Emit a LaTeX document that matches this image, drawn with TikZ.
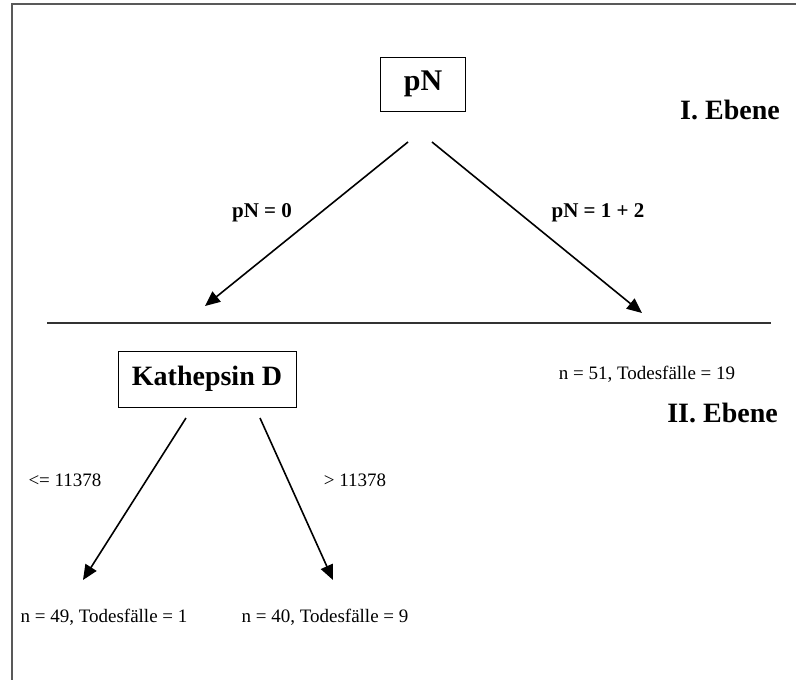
\documentclass[tikz,border=0pt]{standalone}
\usepackage{fontspec}
\setmainfont{Liberation Serif}
\usetikzlibrary{positioning, arrows.meta}
\tikzset{
	boxnode/.style={
			draw=black,
			line width=1pt,
			fill=white,
			font=\bfseries,
			inner sep=0pt
		},
	levelnode/.style={
			font=\fontsize{28}{30}\selectfont\bfseries,
			inner sep=0pt
		},
	splitnode/.style={
			font=\fontsize{21}{24}\selectfont\bfseries,
			inner sep=0pt
		},
	countnode/.style={
			font=\fontsize{19}{22}\selectfont,
			inner sep=0pt
		},
	treearrow/.style={
			draw=black,
			line width=1.6pt,
			-{Triangle[length=15pt,width=13pt]}
		}
}

\begin{document}
\begin{tikzpicture}[x=1pt,y=-1pt]
\useasboundingbox (0,0) rectangle (796,680);
% frame and level line
\draw[gray!70!black, line width=1.8pt] (12,680) -- (12,4) -- (796,4);
\draw[black!80, line width=1.4pt] (47,323) -- (771,323);

% nodes
\node[boxnode, minimum width=85pt, minimum height=54pt, font=\fontsize{30}{32}\selectfont\bfseries] (pN) at (423,84) {pN};
\node[boxnode, minimum width=178pt, minimum height=56pt, font=\fontsize{28}{30}\selectfont\bfseries] (kath) at (207,379) {Kathepsin D};
\node[levelnode, anchor=east] (ebeneI) at (780,110) {I. Ebene};
\node[levelnode, anchor=east] (ebeneII) at (778,413) {II. Ebene};
\node[splitnode] (pNzero) at (262,213) {pN = 0};
\node[splitnode] (pNone) at (598,213) {pN = 1 + 2};
\node[countnode] (rightleaf) at (647,374) {n = 51, Todesfälle = 19};
\node[countnode] (lowleft) at (65,480) {<= 11378};
\node[countnode] (lowright) at (355,480) {> 11378};
\node[countnode] (leafA) at (104,617) {n = 49, Todesfälle = 1};
\node[countnode] (leafB) at (325,617) {n = 40, Todesfälle = 9};

% arrow ends
\coordinate (pNa) at (408,142);
\coordinate (pNb) at (432,142);
\coordinate (tipA) at (205,306);
\coordinate (tipB) at (642,313);
\coordinate (kathA) at (186,418);
\coordinate (kathB) at (260,418);
\coordinate (tipC) at (83,580);
\coordinate (tipD) at (333,580);

\draw[treearrow] (pNa) -- (tipA);
\draw[treearrow] (pNb) -- (tipB);
\draw[treearrow] (kathA) -- (tipC);
\draw[treearrow] (kathB) -- (tipD);

\end{tikzpicture}
\end{document}
